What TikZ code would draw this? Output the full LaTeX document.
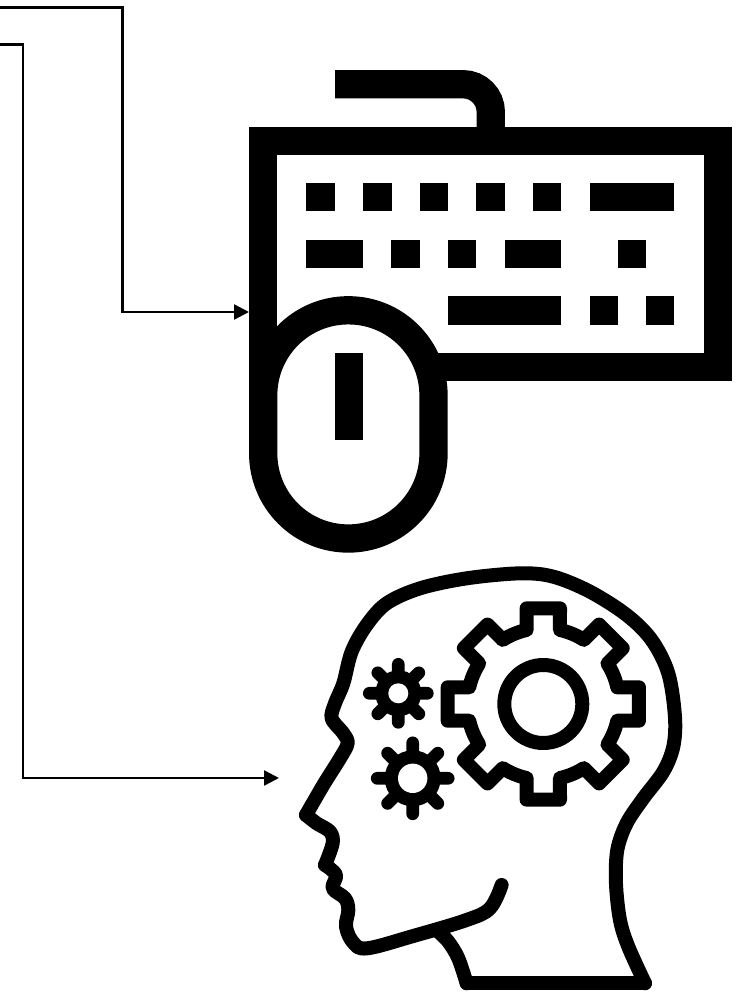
\documentclass[tikz,border=0pt]{standalone}
\usetikzlibrary{arrows.meta}
\tikzset{
  linkline/.style={line width=2.4pt,-{Triangle[length=15pt,width=15pt]}},
  iconline/.style={line width=28.3pt},
  keyblock/.style={fill=black},
  headline/.style={line width=14pt,line cap=round,line join=round}
}
\begin{document}
\begin{tikzpicture}[x=1pt,y=-1pt]
\path[use as bounding box] (0,0) rectangle (741,992);
\coordinate (inA) at (0,7.5);
\coordinate (bendA) at (122.5,7.5);
\coordinate (keyboardin) at (249,312);
\coordinate (inB) at (0,44.5);
\coordinate (bendB) at (23,44.5);
\coordinate (headin) at (279,778);
\draw[linkline] (inA) -- (bendA) |- (keyboardin);
\draw[linkline] (inB) -- (bendB) |- (headin);
\draw[iconline] (335,84.2) -- (463,84.2) arc[start angle=-90,end angle=0,radius=27.8] -- (490.8,141);
\draw[iconline] (263.2,141) rectangle (717.8,367.2);
\fill[keyblock] (306.3,183) rectangle (335,211.3);
\fill[keyblock] (363,183) rectangle (391.7,211.3);
\fill[keyblock] (419.7,183) rectangle (448,211.3);
\fill[keyblock] (476.3,183) rectangle (505,211.3);
\fill[keyblock] (533,183) rectangle (561.3,211.3);
\fill[keyblock] (589.7,183) rectangle (674.3,211.3);
\fill[keyblock] (306.3,239.7) rectangle (363,268);
\fill[keyblock] (391.3,239.7) rectangle (419.7,268);
\fill[keyblock] (448,239.7) rectangle (476.3,268);
\fill[keyblock] (504.7,239.7) rectangle (561.3,268);
\fill[keyblock] (617.7,239.7) rectangle (646,268);
\fill[keyblock] (448,296.3) rectangle (561.3,324.7);
\fill[keyblock] (589.7,296.3) rectangle (617.7,324.7);
\fill[keyblock] (646,296.3) rectangle (674.3,324.7);
\draw[iconline,fill=white,rounded corners=85pt] (263.2,310.3) rectangle (433.5,538.5);
\fill[keyblock] (249,375) rectangle (262,405);
\fill[keyblock] (335,353) rectangle (363,439.7);
\begin{scope}[shift={(280,550)},scale=0.3333]
\draw[headline] plot[smooth,tension=0.55] coordinates {(78,795) (130,705) (180,625) (203,580) (190,550) (155,505) (165,460) (190,400) (215,305) (260,225) (320,160) (420,115) (560,85) (720,70) (820,80) (930,125) (1040,195) (1115,270) (1165,370) (1185,500) (1180,590) (1150,665) (1090,745) (1040,820) (1012,900) (1008,1000) (1020,1110) (1045,1190) (1095,1300)};
\draw[headline] (1095,1300) -- (560,1300);
\draw[headline] plot[smooth,tension=0.55] coordinates {(560,1300) (535,1225) (505,1175) (475,1145)};
\draw[headline] plot[smooth,tension=0.55] coordinates {(78,795) (110,820) (150,845) (158,880) (135,945)};
\draw[headline] plot[smooth,tension=0.6] coordinates {(135,945) (168,975) (158,1015) (195,1045) (205,1080) (198,1130) (220,1178) (262,1195) (400,1158) (560,1110) (630,1075) (665,1005)};
\end{scope}
\begin{scope}[shift={(543.3,704)}]
\draw[headline] (39,0) arc[start angle=0,end angle=360,radius=39];
\draw[headline] (-12.7:75.9) -- (-9.9:97.1) -- (9.9:97.1) -- (12.7:75.9) arc[start angle=12.7,delta angle=19.6,radius=75.9]
 -- (35.1:97.1) -- (54.9:97.1) -- (57.7:75.9) arc[start angle=57.7,delta angle=19.6,radius=75.9]
 -- (80.1:97.1) -- (99.9:97.1) -- (102.7:75.9) arc[start angle=102.7,delta angle=19.6,radius=75.9]
 -- (125.1:97.1) -- (144.9:97.1) -- (147.7:75.9) arc[start angle=147.7,delta angle=19.6,radius=75.9]
 -- (170.1:97.1) -- (189.9:97.1) -- (192.7:75.9) arc[start angle=192.7,delta angle=19.6,radius=75.9]
 -- (215.1:97.1) -- (234.9:97.1) -- (237.7:75.9) arc[start angle=237.7,delta angle=19.6,radius=75.9]
 -- (260.1:97.1) -- (279.9:97.1) -- (282.7:75.9) arc[start angle=282.7,delta angle=19.6,radius=75.9]
 -- (305.1:97.1) -- (324.9:97.1) -- (327.7:75.9) arc[start angle=327.7,delta angle=19.6,radius=75.9];
\end{scope}
\begin{scope}[shift={(398.3,693.3)}]
\draw[headline,line width=12.7pt] (-29,0) -- (29,0) (0,-29) -- (0,29) (45:29) -- (225:29) (135:29) -- (315:29);
\fill[keyblock] (0,0) circle[radius=23];
\fill[white] (0,0) circle[radius=10];
\end{scope}
\begin{scope}[shift={(412.7,778.3)}]
\draw[headline,line width=12.7pt] (-35.5,0) -- (35.5,0) (0,-35.5) -- (0,35.5) (45:35.5) -- (225:35.5) (135:35.5) -- (315:35.5);
\fill[keyblock] (0,0) circle[radius=28];
\fill[white] (0,0) circle[radius=14.7];
\end{scope}
\end{tikzpicture}
\end{document}
